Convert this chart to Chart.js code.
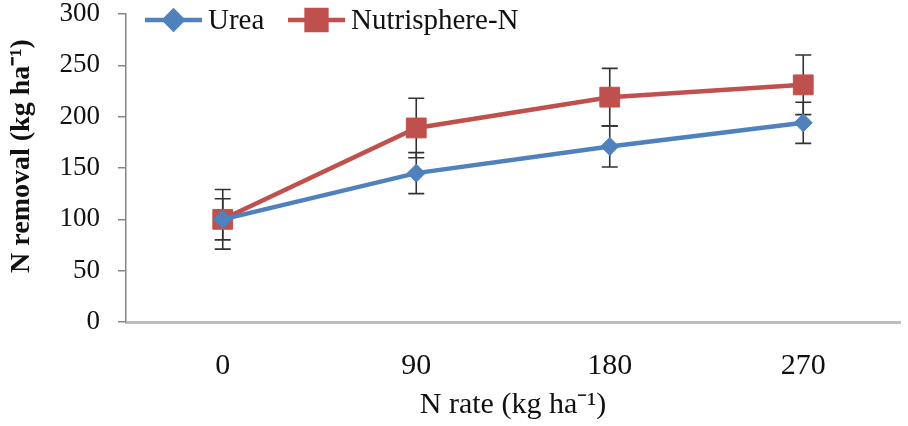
<!DOCTYPE html>
<html>
<head>
<meta charset="utf-8">
<script src="https://cdn.jsdelivr.net/npm/chart.js@4.4.1/dist/chart.umd.min.js"></script>
<style>
  html, body { margin: 0; padding: 0; background: #fff; }
  #chart { display: block; }
</style>
</head>
<body>
<canvas id="chart" width="908" height="426"></canvas>
<script>
// N removal vs N rate
const categories = ["0", "90", "180", "270"];
const ureaValues = [100, 145, 171, 194];
const ureaErrors = [20, 20, 20, 20];
const nutriValues = [100, 189, 219, 231];
const nutriErrors = [29, 29, 28, 29];
const yMin = 0;
const yMax = 300;
const yStep = 50;
const yTitle = "N removal (kg ha\u207B\u00B9)";
const xTitle = "N rate (kg ha\u207B\u00B9)";

const SERIF = "'Liberation Serif', 'Times New Roman', serif";
const BLUE = "#4F81BD";
const RED = "#C0504D";

// error bars drawn under the markers
const errorBarPlugin = {
  id: "errorBars",
  beforeDatasetsDraw(chart) {
    const ctx = chart.ctx;
    const yScale = chart.scales.y;
    chart.data.datasets.forEach((dataset, i) => {
      const meta = chart.getDatasetMeta(i);
      if (meta.hidden || !dataset.errors) return;
      ctx.save();
      ctx.strokeStyle = "#333";
      ctx.lineWidth = 1.6;
      meta.data.forEach((pt, j) => {
        const v = dataset.data[j];
        const e = dataset.errors[j];
        const yTop = yScale.getPixelForValue(v + e);
        const yBot = yScale.getPixelForValue(v - e);
        ctx.beginPath();
        ctx.moveTo(pt.x, yTop);
        ctx.lineTo(pt.x, yBot);
        ctx.moveTo(pt.x - 8, yTop);
        ctx.lineTo(pt.x + 8, yTop);
        ctx.moveTo(pt.x - 8, yBot);
        ctx.lineTo(pt.x + 8, yBot);
        ctx.stroke();
      });
      ctx.restore();
    });
  },
};

// legend inside the plot (line + marker) and the y title, a bit above centre
const legendPlugin = {
  id: "lineLegend",
  afterDraw(chart) {
    const ctx = chart.ctx;
    const items = [
      { x: 145, w: 57 },
      { x: 288, w: 57 },
    ];
    const y = 20;
    chart.data.datasets.forEach((ds, i) => {
      const it = items[i];
      ctx.save();
      ctx.strokeStyle = ds.borderColor;
      ctx.lineWidth = 4.5;
      ctx.beginPath();
      ctx.moveTo(it.x, y);
      ctx.lineTo(it.x + it.w, y);
      ctx.stroke();
      ctx.fillStyle = ds.pointBackgroundColor;
      ctx.strokeStyle = ds.pointBorderColor;
      Chart.helpers.drawPoint(ctx, {
        pointStyle: ds.pointStyle,
        radius: ds.pointRadius,
        rotation: 0,
        borderWidth: 1,
      }, it.x + it.w / 2, y);
      ctx.fillStyle = "#111";
      ctx.font = "29px " + SERIF;
      ctx.textBaseline = "middle";
      ctx.fillText(ds.label, it.x + it.w + 6, y + 1);
      ctx.restore();
    });

    ctx.save();
    ctx.translate(22, 156);
    ctx.rotate(-Math.PI / 2);
    ctx.fillStyle = "#111";
    ctx.font = "bold 28px " + SERIF;
    ctx.textAlign = "center";
    ctx.textBaseline = "middle";
    ctx.fillText(yTitle, 0, 0);
    ctx.restore();
  },
};

const ctx = document.getElementById("chart").getContext("2d");
new Chart(ctx, {
  type: "line",
  data: {
    labels: categories,
    datasets: [
      {
        label: "Urea",
        data: ureaValues,
        errors: ureaErrors,
        borderColor: BLUE,
        borderWidth: 4.5,
        pointStyle: "rectRot",
        pointRadius: 9,
        pointBackgroundColor: BLUE,
        pointBorderColor: BLUE,
        pointBorderWidth: 1,
        tension: 0,
        clip: false,
      },
      {
        label: "Nutrisphere-N",
        data: nutriValues,
        errors: nutriErrors,
        borderColor: RED,
        borderWidth: 4.5,
        pointStyle: "rect",
        pointRadius: 14,
        pointBackgroundColor: RED,
        pointBorderColor: RED,
        pointBorderWidth: 1,
        tension: 0,
        clip: false,
      },
    ],
  },
  options: {
    responsive: false,
    animation: false,
    layout: { autoPadding: false, padding: { top: 14, right: 8, left: 0, bottom: 0 } },
    plugins: {
      legend: { display: false },
      tooltip: { enabled: false },
    },
    scales: {
      x: {
        offset: true,
        grid: { display: false },
        border: { display: true, color: "#bdbdbd", width: 3 },
        ticks: { color: "#111", padding: 18, font: { family: SERIF, size: 30 } },
        title: {
          display: true,
          text: xTitle,
          color: "#111",
          padding: { top: 0, bottom: 3 },
          font: { family: SERIF, size: 30 },
        },
        afterFit(scale) {
          scale.height = 104;
          scale.paddingLeft = 0;
          scale.paddingRight = 0;
        },
      },
      y: {
        min: yMin,
        max: yMax,
        ticks: { stepSize: yStep, color: "#111", padding: 18, font: { family: SERIF, size: 27 } },
        grid: { drawOnChartArea: false, drawTicks: true, tickLength: 8, color: "#868686", lineWidth: 1.5 },
        border: { display: true, color: "#868686", width: 1.5 },
        afterFit(scale) {
          scale.width = 126;
          scale.paddingTop = 0;
          scale.paddingBottom = 0;
        },
      },
    },
  },
  plugins: [errorBarPlugin, legendPlugin],
});
</script>
</body>
</html>
